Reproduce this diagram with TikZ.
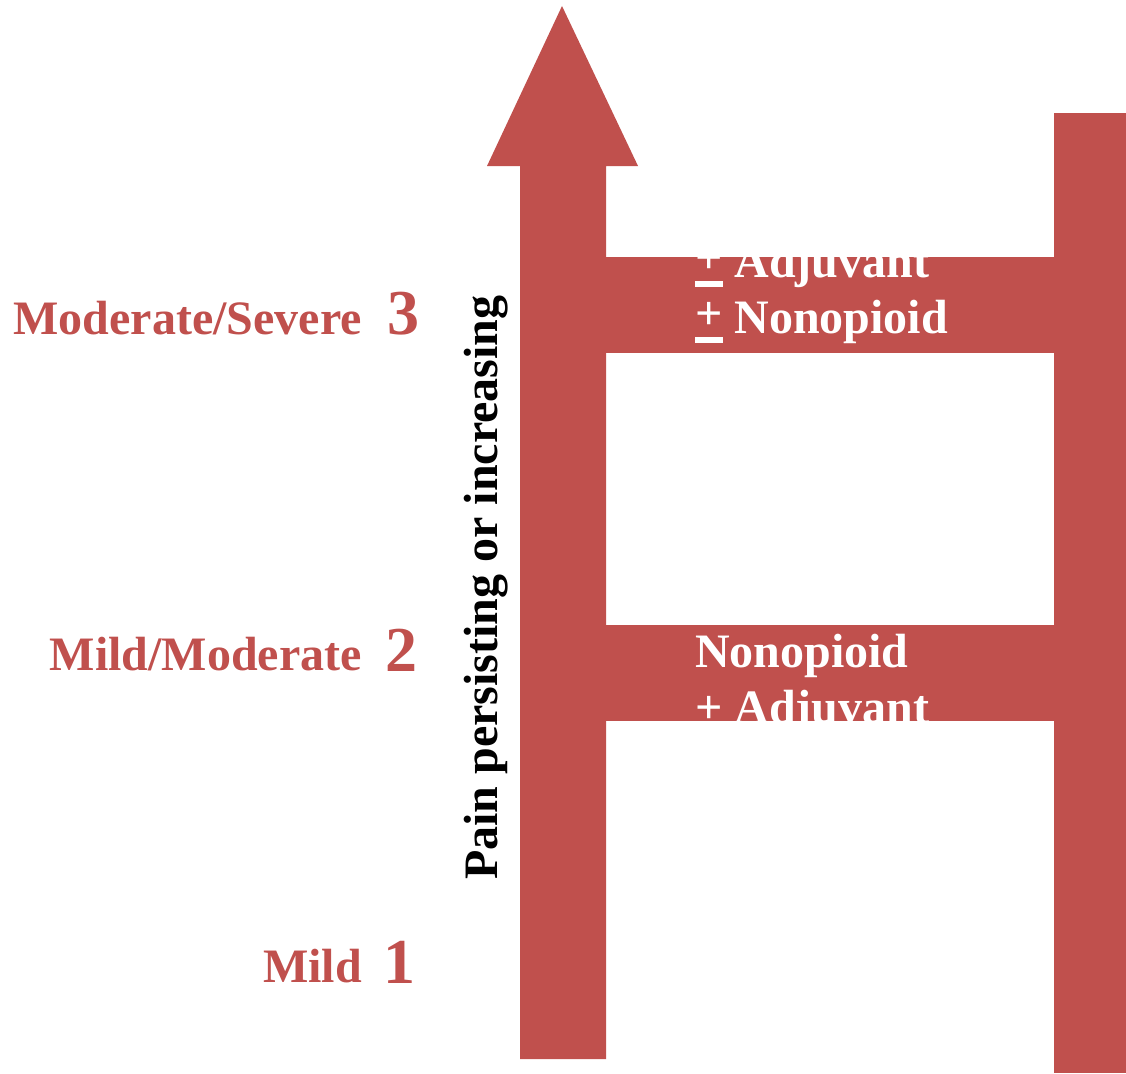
\documentclass[tikz,border=0pt]{standalone}
\usepackage{fontspec}
\setmainfont{Liberation Serif}
\definecolor{ladder}{HTML}{C0504D}
% plus sign with a heavy bar beneath it
\newcommand{\plusbar}{\leavevmode\rlap{\rule[-10pt]{28pt}{6pt}}\raisebox{4pt}{+}}
\begin{document}
\begin{tikzpicture}[x=1pt,y=-1pt,
  bar/.style={fill=ladder,draw=none},
  level/.style={text=ladder,font=\fontsize{48}{56}\selectfont\bfseries,inner sep=0pt,anchor=base east},
  stepno/.style={text=ladder,font=\fontsize{64}{64}\selectfont\bfseries,inner sep=0pt,anchor=base east},
  drug/.style={text=white,font=\fontsize{48}{56}\selectfont\bfseries,inner sep=0pt,anchor=base west,align=left},
  axis/.style={text=black,font=\fontsize{48}{56}\selectfont\bfseries,inner sep=0pt,anchor=base west,rotate=90}]
\useasboundingbox (0,0) rectangle (1126,1073);

% upward arrow (left rail)
\fill[bar] (520,1059) -- (520,166) -- (487,166) -- (562,6) -- (638,166)
  -- (606,166) -- (606,1059) -- cycle;
% right rail
\fill[bar] (1054,113) rectangle (1126,1073);
% rungs
\fill[bar] (606,257) rectangle (1054,353);
\fill[bar] (606,625) rectangle (1054,721);

% drug texts, cut off at the rung edges
\begin{scope}
  \clip (606,257) rectangle (1054,353);
  \node[drug] (top1) at (695,277) {\plusbar{} Adjuvant};
  \node[drug] (top2) at (695,333) {\plusbar{} Nonopioid};
\end{scope}
\begin{scope}
  \clip (606,625) rectangle (1054,721);
  \node[drug] (mid1) at (695,667) {Nonopioid};
  \node[drug] (mid2) at (695,723) {+ Adjuvant};
\end{scope}

% pain levels
\node[level] (l3) at (362,334) {Moderate/Severe};
\node[stepno] (n3) at (420,334) {3};
\node[level] (l2) at (362,670) {Mild/Moderate};
\node[stepno] (n2) at (418,671) {2};
\node[level] (l1) at (362,982) {Mild};
\node[stepno] (n1) at (416,983) {1};

% axis caption
\node[axis] (cap) at (497,880) {Pain persisting or increasing};
\end{tikzpicture}
\end{document}
